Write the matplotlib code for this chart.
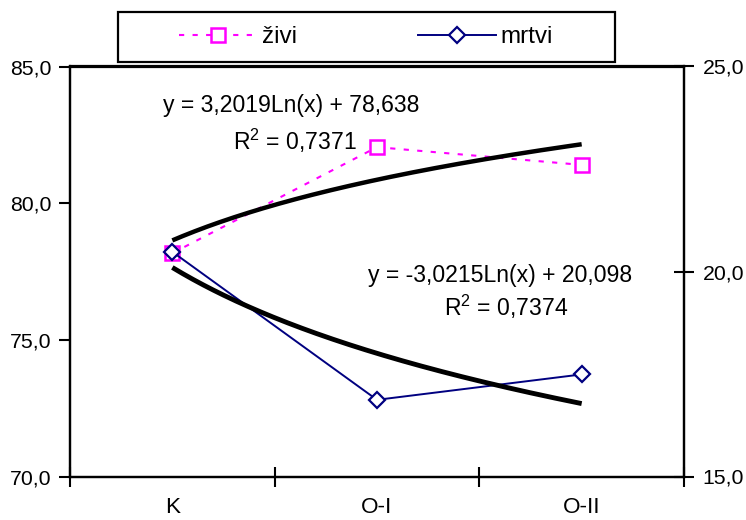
import numpy as np
import matplotlib.pyplot as plt
from matplotlib.lines import Line2D
from matplotlib.patches import Rectangle
from matplotlib.ticker import FuncFormatter, FixedLocator

plt.rcParams['font.family'] = ['Liberation Sans', 'DejaVu Sans']

# --- podaci ---
grupe = ['K', 'O-I', 'O-II']
zivi = [78.17, 82.05, 81.40]      # lijeva os
mrtvi = [20.48, 16.87, 17.49]     # desna os
# logaritamski trendovi: y = a*Ln(x) + b
trend_zivi = (3.2019, 78.638)
trend_mrtvi = (-3.0215, 20.098)
r2_zivi = '0,7371'
r2_mrtvi = '0,7374'

FS_Y = 15.3    # oznake y osi
FS_X = 16.2    # kategorije
FS_TXT = 16.6  # jednadžbe
FS_LEG = 17.5  # legenda
x = np.arange(1, len(grupe) + 1)
xt = np.linspace(1, len(grupe), 200)

fig = plt.figure(figsize=(7.46, 5.20), dpi=100)
ax = fig.add_axes([70 / 746, 43.5 / 520, 614 / 746, 410 / 520])
ax2 = ax.twinx()

# živi - lijeva os
ax.plot(x, zivi, color='#FF00FF', lw=1.5, linestyle=(0, (2.5, 4)),
        marker='s', ms=10, mfc='white', mec='#FF00FF', mew=1.8, zorder=3)
ax.plot(xt, trend_zivi[0] * np.log(xt) + trend_zivi[1], color='black', lw=3.2,
        solid_capstyle='butt', zorder=4)

# mrtvi - desna os
ax2.plot(x, mrtvi, color='#000080', lw=1.4, marker='D', ms=8.5,
         mfc='white', mec='#000080', mew=1.6, zorder=3)
ax2.plot(xt, trend_mrtvi[0] * np.log(xt) + trend_mrtvi[1], color='black', lw=3.5,
         solid_capstyle='butt', zorder=4)

ax.set_xlim(0.5, len(grupe) + 0.5)
ax.set_ylim(70, 85)
ax2.set_ylim(15, 25)
ax.set_yticks([70, 75, 80, 85])
ax2.set_yticks([15, 20, 25])

zarez = FuncFormatter(lambda v, p: f'{v:.1f}'.replace('.', ','))
ax.yaxis.set_major_formatter(zarez)
ax2.yaxis.set_major_formatter(zarez)

# kategorije u sredini, crtice na granicama
ax.xaxis.set_major_locator(FixedLocator(np.arange(0.5, len(grupe) + 1, 1.0)))
ax.xaxis.set_major_formatter(FuncFormatter(lambda v, p: ''))
ax.xaxis.set_minor_locator(FixedLocator(x))
ax.set_xticklabels(grupe, minor=True)
ax.tick_params(axis='x', which='major', direction='inout', length=14, width=1.5)
ax.tick_params(axis='x', which='minor', length=0, pad=15, labelsize=FS_X)
ax.tick_params(axis='y', direction='out', length=8, width=1.5, pad=5.5, labelsize=FS_Y)
ax2.tick_params(axis='y', direction='inout', length=14, width=1.5, pad=6.5, labelsize=FS_Y)

for a in (ax, ax2):
    for s in a.spines.values():
        s.set_linewidth(1.6)
        s.set_color('black')

# jednadžbe trendova
ax.text(0.36, 0.906, 'y = 3,2019Ln(x) + 78,638', transform=ax.transAxes,
        ha='center', va='center', fontsize=FS_TXT, zorder=5)
ax.text(0.366, 0.818, r'R$^\mathregular{2}$ = ' + r2_zivi, transform=ax.transAxes,
        ha='center', va='center', fontsize=FS_TXT, zorder=5)
ax2.text(0.70, 0.491, 'y = -3,0215Ln(x) + 20,098', transform=ax.transAxes,
         ha='center', va='center', fontsize=FS_TXT, zorder=5)
ax2.text(0.71, 0.413, r'R$^\mathregular{2}$ = ' + r2_mrtvi, transform=ax.transAxes,
         ha='center', va='center', fontsize=FS_TXT, zorder=5)

# legenda iznad grafa
fig.patches.append(Rectangle((118 / 746, 1 - 62 / 520), 497 / 746, 50 / 520,
                             transform=fig.transFigure, fill=False,
                             edgecolor='black', lw=1.6))
h1 = Line2D([], [], color='#FF00FF', lw=1.5, linestyle=(0, (2.5, 4)), marker='s',
            ms=10, mfc='white', mec='#FF00FF', mew=1.8)
h2 = Line2D([], [], color='#000080', lw=1.4, marker='D', ms=8.5,
            mfc='white', mec='#000080', mew=1.6)
fig.legend([h1, h2], ['živi', 'mrtvi'], ncol=2, frameon=False, loc='center',
           bbox_to_anchor=(366 / 746, 1 - 37 / 520), fontsize=FS_LEG,
           handlelength=3.2, handletextpad=0.2, columnspacing=5.0)

fig.savefig('out.png', dpi=100)
